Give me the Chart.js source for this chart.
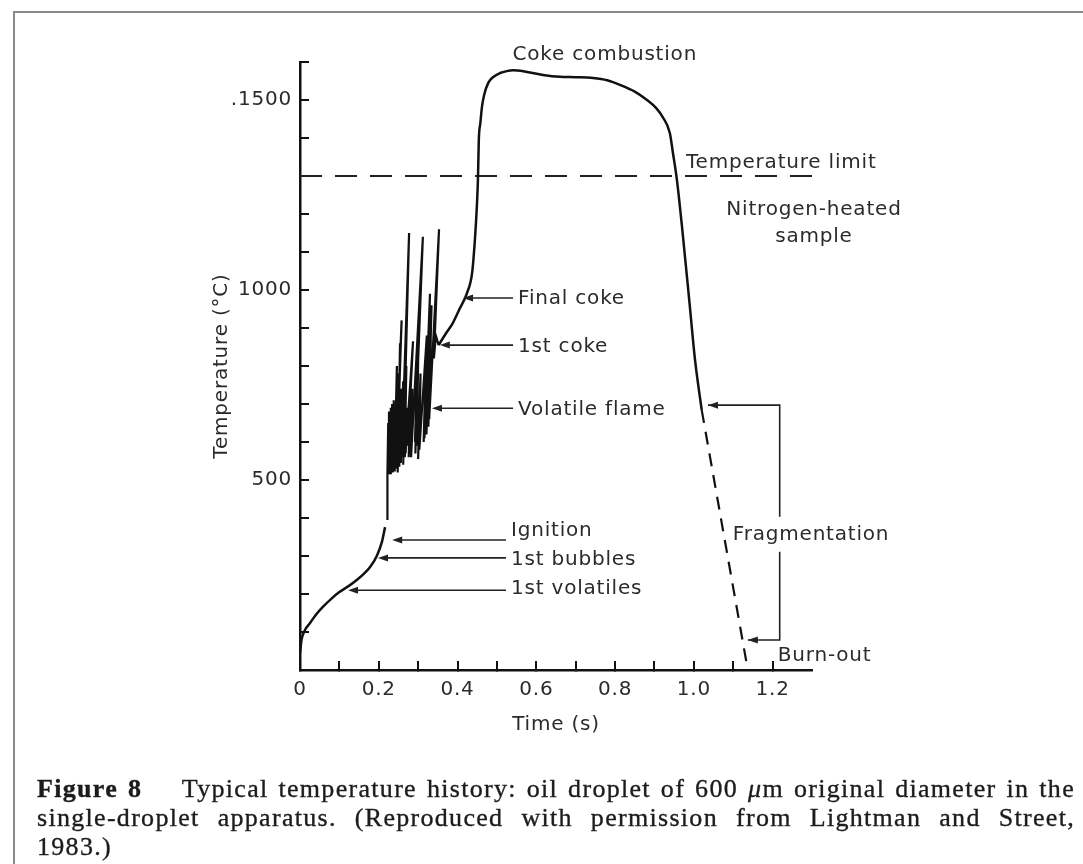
<!DOCTYPE html>
<html>
<head>
<meta charset="utf-8">
<script src="https://cdn.jsdelivr.net/npm/chart.js@4.4.1/dist/chart.umd.min.js"></script>
<style>
html, body { margin: 0; padding: 0; background: #fff; width: 1083px; height: 864px; overflow: hidden; }
#frame { position: absolute; left: 13px; top: 11px; width: 1100px; height: 900px; border-left: 2px solid #8a8a8a; border-top: 2px solid #8a8a8a; }
#wrap { position: absolute; left: 0; top: 0; width: 1083px; height: 780px; }
#caption { position: absolute; left: 37px; top: 774px; width: 1038px; font-family: "Liberation Serif", "Times New Roman", serif; font-size: 26px; line-height: 29px; color: #1c1c1c; letter-spacing: 1.3px; -webkit-text-stroke: 0.35px #1c1c1c; }
#caption div { text-align: justify; text-align-last: justify; white-space: nowrap; }
#caption div.last { text-align-last: left; }
</style>
</head>
<body>
<div id="frame"></div>
<div id="wrap"><canvas id="history-chart" width="1083" height="780"></canvas></div>
<div id="caption">
  <div><b>Figure 8</b>&nbsp;&nbsp;&nbsp; Typical temperature history: oil droplet of 600 <i>μ</i>m original diameter in the</div>
  <div>single-droplet apparatus. (Reproduced with permission from Lightman and Street,</div>
  <div class="last">1983.)</div>
</div>
<script>
// Data: time in s, temperature in degC
var heatTime = [0, 0.004, 0.012, 0.025, 0.04, 0.058, 0.08, 0.10, 0.125, 0.144, 0.162, 0.178, 0.195, 0.208, 0.216];
var heatTemp = [45, 80, 104, 123, 145, 166, 188, 205, 222, 237, 253, 271, 300, 337, 376];

var flameTime = [0.222, 0.222, 0.224, 0.225, 0.226, 0.227, 0.228, 0.229, 0.230, 0.231, 0.232, 0.233, 0.234, 0.235,
  0.236, 0.237, 0.238, 0.239, 0.240, 0.241,
  0.246, 0.243, 0.258, 0.246, 0.250, 0.248, 0.254, 0.250, 0.256, 0.252, 0.258, 0.254, 0.260, 0.256,
  0.262, 0.258, 0.277, 0.262, 0.266, 0.263, 0.270, 0.266, 0.272, 0.268, 0.287, 0.274, 0.280, 0.276, 0.282, 0.279,
  0.285, 0.282,
  0.312, 0.292, 0.296, 0.293, 0.300, 0.297, 0.303, 0.300, 0.306, 0.303, 0.322, 0.314, 0.318, 0.316, 0.330, 0.321,
  0.334, 0.326, 0.332, 0.328,
  0.353, 0.340, 0.345, 0.352];
var flameTemp = [395, 520, 650, 515, 680, 520, 640, 525, 690, 515, 660, 530, 700, 520,
  650, 540, 710, 525, 680, 550,
  800, 530, 920, 545, 780, 520, 860, 550, 700, 535, 740, 560, 690, 545,
  760, 560, 1150, 540, 720, 580, 800, 560, 690, 570, 865, 590, 720, 560, 680, 575,
  740, 560,
  1140, 600, 760, 570, 820, 590, 700, 555, 780, 580, 880, 600, 760, 610, 990, 620,
  960, 640, 870, 660,
  1160, 820, 880, 855];

var cokeTime = [0.352, 0.37, 0.388, 0.405, 0.424, 0.437, 0.444, 0.449, 0.452, 0.454, 0.458, 0.462, 0.468, 0.478,
  0.49, 0.508, 0.525, 0.541, 0.57, 0.617, 0.66, 0.70, 0.744, 0.78, 0.812, 0.85, 0.881, 0.905, 0.921, 0.939,
  0.947, 0.957, 0.970, 0.99, 1.003, 1.02];
var cokeTemp = [855, 885, 913, 950, 992, 1045, 1131, 1219, 1298, 1395, 1440, 1482, 1515, 1545,
  1560, 1571, 1576, 1578, 1575, 1566, 1561, 1560, 1558, 1552, 1540, 1522, 1500, 1478, 1455, 1413,
  1360, 1290, 1166, 955, 816, 684];

var fragTime = [1.02, 1.137];
var fragTemp = [684, 0];

var limitTime = [0, 1.33];
var limitTemp = [1300, 1300];

var xTickValues = [0, 0.2, 0.4, 0.6, 0.8, 1.0, 1.2];
var xTickLabels = ['0', '0.2', '0.4', '0.6', '0.8', '1.0', '1.2'];
var yTickValues = [500, 1000, 1500];
var yTickLabels = ['500', '1000', '.1500'];

// Annotations in data units
var arrowNotes = [
  { text: 'Final coke', tip: 0.414, tail: 0.541, temp: 979, dy: 1 },
  { text: '1st coke', tip: 0.355, tail: 0.541, temp: 855, dy: 2 },
  { text: 'Volatile flame', tip: 0.335, tail: 0.541, temp: 689, dy: 2 },
  { text: 'Ignition', tip: 0.234, tail: 0.523, temp: 342, dy: -9 },
  { text: '1st bubbles', tip: 0.198, tail: 0.523, temp: 295, dy: 2 },
  { text: '1st volatiles', tip: 0.122, tail: 0.523, temp: 210, dy: -1 }
];
var freeNotes = [
  { text: 'Coke combustion', t: 0.774, temp: 1618, align: 'center' },
  { text: 'Temperature limit', t: 0.98, temp: 1334, align: 'left' },
  { text: 'Nitrogen-heated', t: 1.305, temp: 1211, align: 'center' },
  { text: 'sample', t: 1.305, temp: 1139, align: 'center' },
  { text: 'Fragmentation', t: 1.099, temp: 355, align: 'left' },
  { text: 'Burn-out', t: 1.213, temp: 37, align: 'left' }
];
var bracketTop = [[1.036, 697], [1.218, 697], [1.218, 403]];
var bracketBottom = [[1.218, 311], [1.218, 79], [1.137, 79]];

function zip(xs, ys) {
  return xs.map(function (x, i) { return { x: x, y: ys[i] }; });
}

function pickLabel(values, labels, v) {
  for (var i = 0; i < values.length; i++) {
    if (Math.abs(values[i] - v) < 1e-6) return labels[i];
  }
  return '';
}

var textFont = '20px "DejaVu Sans", sans-serif';
var inkText = '#2b2b2b';
var inkLine = '#111';

function arrowHead(ctx, x, y) {
  ctx.beginPath();
  ctx.moveTo(x, y);
  ctx.lineTo(x + 10, y - 3.5);
  ctx.lineTo(x + 10, y + 3.5);
  ctx.closePath();
  ctx.fill();
}

var notesPlugin = {
  id: 'notes',
  beforeDraw: function (chart) {
    chart.ctx.letterSpacing = '0.8px';
  },
  afterDraw: function (chart) {
    var ctx = chart.ctx;
    var xs = chart.scales.x, ys = chart.scales.y;
    ctx.save();
    ctx.font = textFont;
    ctx.fillStyle = inkText;
    ctx.strokeStyle = '#222';
    ctx.lineWidth = 1.6;
    ctx.textBaseline = 'middle';

    arrowNotes.forEach(function (n) {
      var x0 = xs.getPixelForValue(n.tip), x1 = xs.getPixelForValue(n.tail);
      var y = ys.getPixelForValue(n.temp);
      ctx.beginPath();
      ctx.moveTo(x0 + 6, y);
      ctx.lineTo(x1, y);
      ctx.stroke();
      ctx.fillStyle = '#222';
      arrowHead(ctx, x0, y);
      ctx.fillStyle = inkText;
      ctx.textAlign = 'left';
      ctx.fillText(n.text, x1 + 5, y + n.dy);
    });

    freeNotes.forEach(function (n) {
      ctx.textAlign = n.align;
      ctx.fillText(n.text, xs.getPixelForValue(n.t), ys.getPixelForValue(n.temp));
    });

    [bracketTop, bracketBottom].forEach(function (pts) {
      ctx.beginPath();
      pts.forEach(function (p, i) {
        var px = xs.getPixelForValue(p[0]), py = ys.getPixelForValue(p[1]);
        if (i === 0) ctx.moveTo(px, py); else ctx.lineTo(px, py);
      });
      ctx.stroke();
    });
    ctx.fillStyle = '#222';
    arrowHead(ctx, xs.getPixelForValue(bracketTop[0][0]), ys.getPixelForValue(bracketTop[0][1]));
    arrowHead(ctx, xs.getPixelForValue(bracketBottom[2][0]), ys.getPixelForValue(bracketBottom[2][1]));
    ctx.restore();
  }
};

var axisFont = { family: '"DejaVu Sans", sans-serif', size: 20 };

var ctx = document.getElementById('history-chart').getContext('2d');
var historyChart = new Chart(ctx, {
  type: 'line',
  data: {
    datasets: [{
      label: 'Heating',
      data: zip(heatTime, heatTemp),
      borderColor: inkLine,
      borderWidth: 2.5,
      pointRadius: 0,
      cubicInterpolationMode: 'monotone'
    }, {
      label: 'Volatile flame',
      data: zip(flameTime, flameTemp),
      borderColor: inkLine,
      borderWidth: 2.2,
      pointRadius: 0,
      tension: 0
    }, {
      label: 'Coke combustion',
      data: zip(cokeTime, cokeTemp),
      borderColor: inkLine,
      borderWidth: 2.5,
      pointRadius: 0,
      cubicInterpolationMode: 'monotone'
    }, {
      label: 'Fragmentation',
      data: zip(fragTime, fragTemp),
      borderColor: inkLine,
      borderWidth: 2.2,
      borderDash: [13, 9],
      pointRadius: 0
    }, {
      label: 'Temperature limit',
      data: zip(limitTime, limitTemp),
      borderColor: '#222',
      borderWidth: 2,
      borderDash: [22, 13],
      pointRadius: 0,
      clip: false
    }]
  },
  options: {
    responsive: false,
    animation: false,
    layout: { padding: { top: 62, right: 271, left: 0, bottom: 0 } },
    plugins: {
      legend: { display: false },
      tooltip: { enabled: false }
    },
    scales: {
      x: {
        type: 'linear',
        min: 0,
        max: 1.3,
        border: { display: true, color: inkLine, width: 2.5 },
        grid: { drawOnChartArea: false, drawTicks: true, tickLength: -9, color: inkLine, lineWidth: 2 },
        ticks: {
          stepSize: 0.1,
          autoSkip: false,
          maxRotation: 0,
          padding: 17,
          color: inkText,
          font: axisFont,
          callback: function (v) { return pickLabel(xTickValues, xTickLabels, v); }
        },
        title: { display: true, text: 'Time (s)', color: inkText, font: axisFont, padding: { top: 0, bottom: 43 } },
        afterBuildTicks: function (s) {
          s.ticks = s.ticks.filter(function (t) { return t.value < 1.25; });
        },
        afterFit: function (s) {
          s.height = 110;
          s.paddingLeft = 0;
          s.paddingRight = 0;
        }
      },
      y: {
        type: 'linear',
        min: 0,
        max: 1600,
        border: { display: true, color: inkLine, width: 2.5 },
        grid: { drawOnChartArea: false, drawTicks: true, tickLength: -9, color: inkLine, lineWidth: 2 },
        ticks: {
          stepSize: 100,
          autoSkip: false,
          padding: 17,
          color: inkText,
          font: axisFont,
          callback: function (v) { return pickLabel(yTickValues, yTickLabels, v); }
        },
        title: { display: true, text: 'Temperature (°C)', color: inkText, font: axisFont, padding: { top: 210, bottom: 0 } },
        afterFit: function (s) {
          s.width = 300;
          s.paddingTop = 0;
          s.paddingBottom = 0;
        }
      }
    }
  },
  plugins: [notesPlugin]
});
</script>
</body>
</html>
